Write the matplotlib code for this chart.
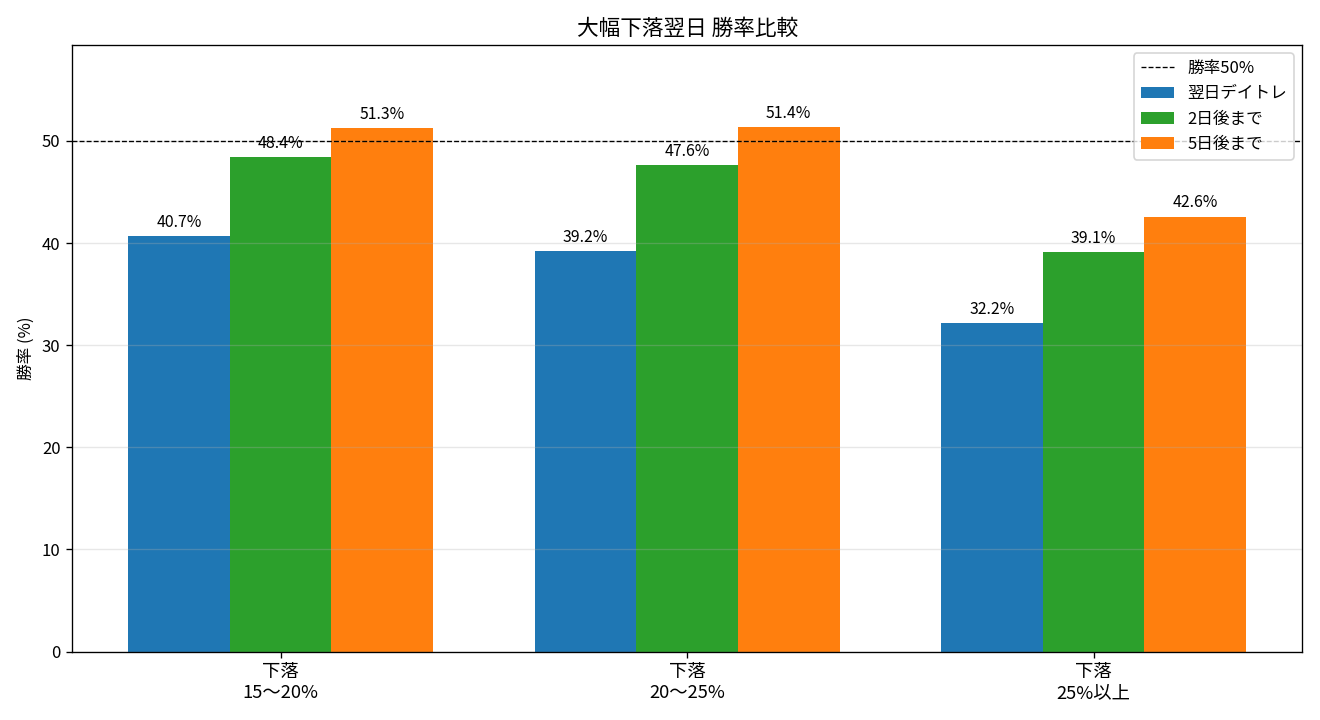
import numpy as np
import matplotlib
matplotlib.use('Agg')
import matplotlib.pyplot as plt

plt.rcParams['font.family'] = ['Noto Sans CJK JP', 'DejaVu Sans']

categories = ['下落\n15〜20%', '下落\n20〜25%', '下落\n25%以上']
next_day = [40.7, 39.2, 32.2]
two_days = [48.4, 47.6, 39.1]
five_days = [51.3, 51.4, 42.6]
series_names = ['翌日デイトレ', '2日後まで', '5日後まで']
colors = ['#1f77b4', '#2ca02c', '#ff7f0e']

x = np.arange(len(categories))
w = 0.25

fig, ax = plt.subplots(figsize=(11, 6), dpi=120)
for i, (vals, name, c) in enumerate(zip([next_day, two_days, five_days], series_names, colors)):
    bars = ax.bar(x + (i - 1) * w, vals, w, label=name, color=c)
    for b, v in zip(bars, vals):
        ax.text(b.get_x() + b.get_width() / 2, v + 0.5, f'{v}%', ha='center', va='bottom', fontsize=9.5)

ax.axhline(50, color='black', linestyle='--', linewidth=0.8, label='勝率50%')
ax.set_xticks(x)
ax.set_xticklabels(categories, fontsize=11)
ax.set_ylabel('勝率 (%)')
ax.set_title('大幅下落翌日 勝率比較', fontsize=13)
ax.set_ylim(0, max(five_days) + 8)
ax.grid(axis='y', alpha=0.3)
ax.legend(loc='upper right')

plt.tight_layout()
plt.savefig('out.png')
